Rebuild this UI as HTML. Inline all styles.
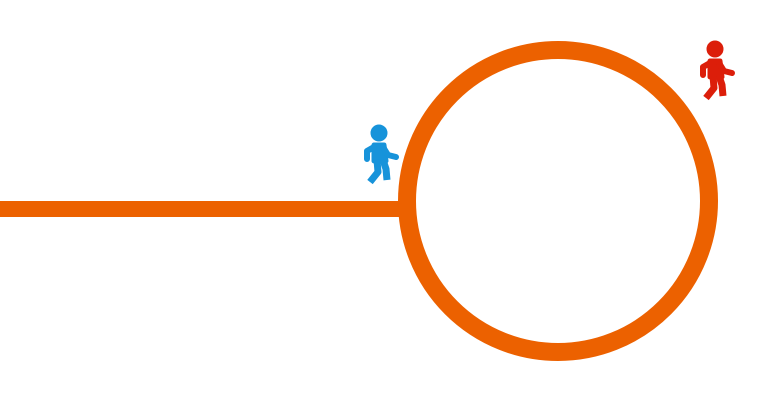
<!DOCTYPE html>
<html><head><meta charset="utf-8"><style>html,body{margin:0;padding:0;background:#fff;width:758px;height:400px;overflow:hidden}</style></head>
<body>
<svg width="758" height="400" viewBox="0 0 758 400">
<defs>
<g id="walker">
<circle cx="0" cy="0" r="8"/>
<path d="M-5,12 L5,12 L7,28 L-5,28 Z" stroke-width="5" stroke-linejoin="round"/>
<path d="M-5,14 L-12,18 L-12,26" fill="none" stroke-width="6" stroke-linecap="round" stroke-linejoin="round"/>
<path d="M4,14 L9,22 L17,24" fill="none" stroke-width="6" stroke-linecap="round" stroke-linejoin="round"/>
<path d="M-2,27 L-1,39 L-9,49" fill="none" stroke-width="7" stroke-linecap="butt" stroke-linejoin="round"/>
<path d="M4,27 L7,36 L8,47" fill="none" stroke-width="7" stroke-linecap="butt" stroke-linejoin="round"/>
</g>
</defs>
<rect x="0" y="201" width="400" height="16" fill="#ec6100"/>
<circle cx="558" cy="201" r="151" fill="none" stroke="#ec6100" stroke-width="18"/>
<g transform="translate(379,133)" fill="#1793da" stroke="#1793da"><use href="#walker"/></g>
<g transform="translate(715,49)" fill="#dc1e0a" stroke="#dc1e0a"><use href="#walker"/></g>
</svg>
</body></html>
